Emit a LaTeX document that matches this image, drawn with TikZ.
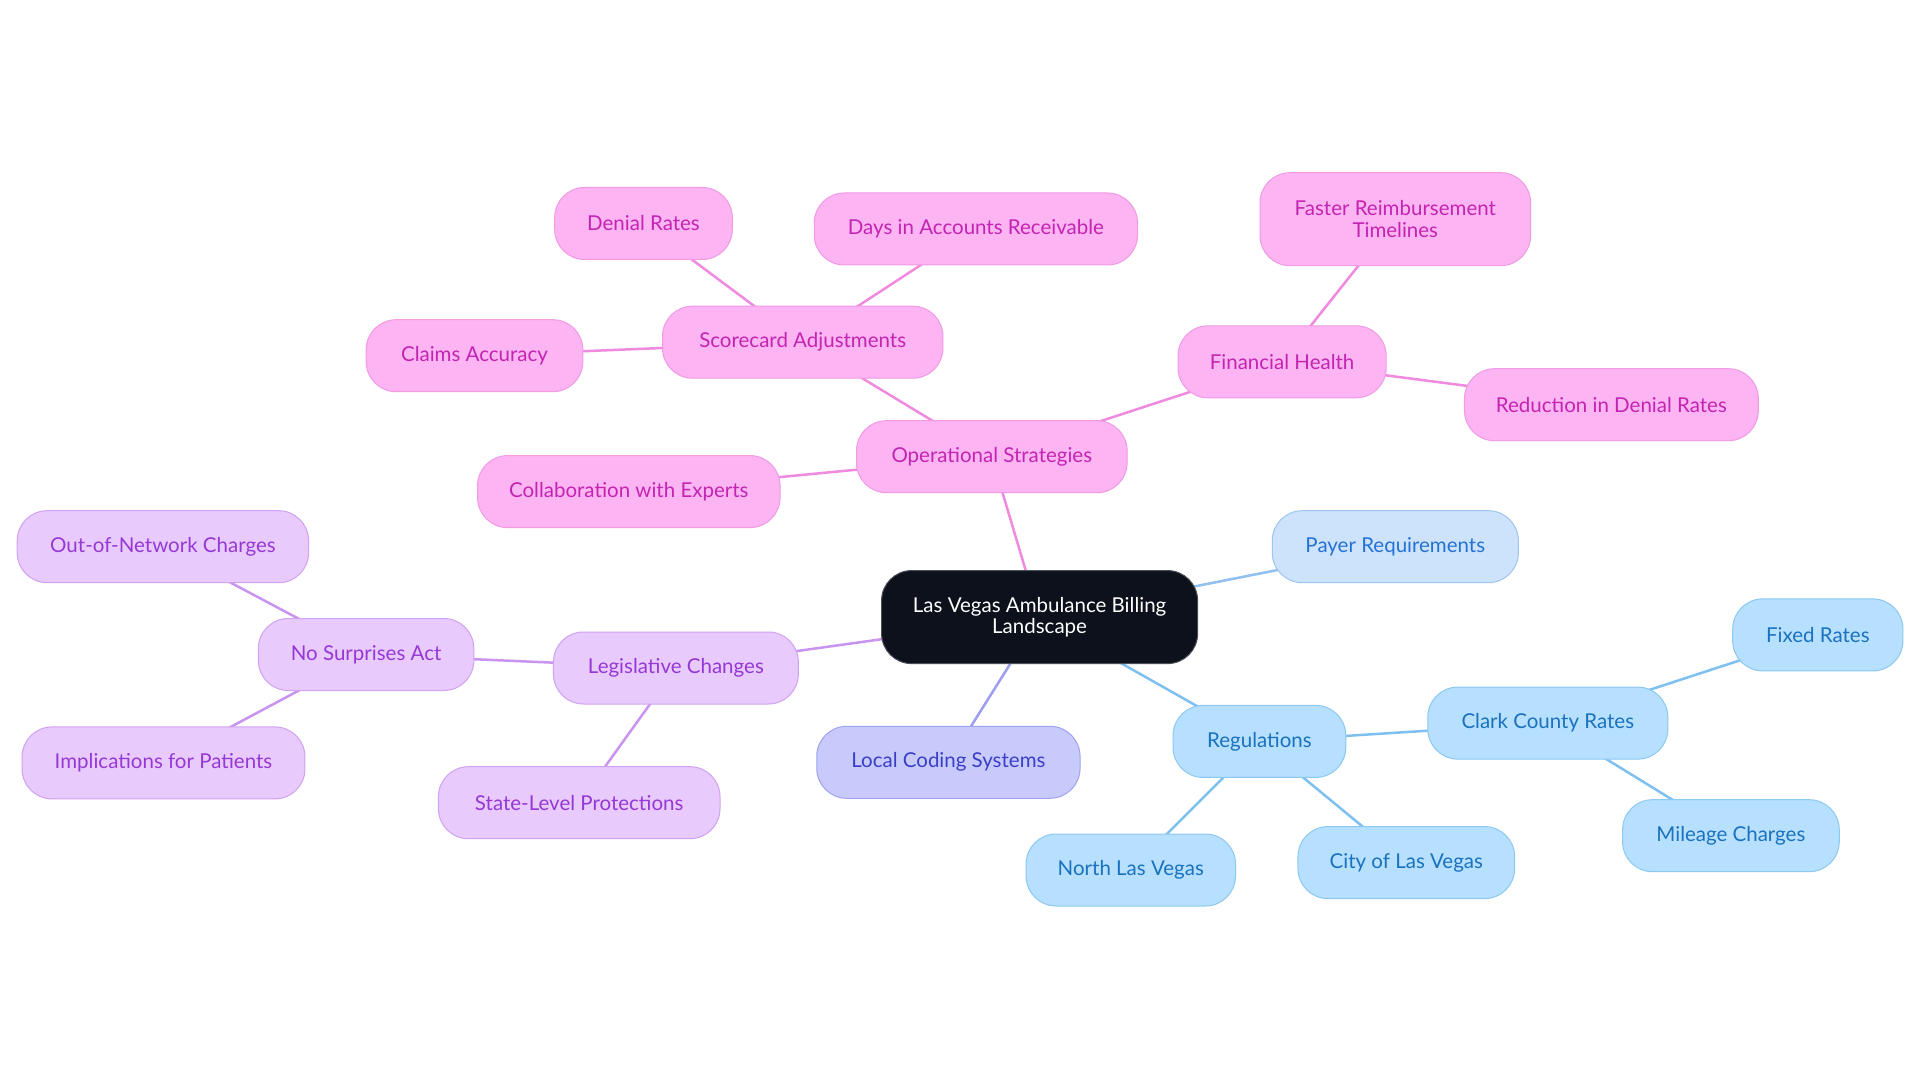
\documentclass[tikz,border=0pt]{standalone}
\usepackage{fontspec}
\setmainfont{Lato}
\usetikzlibrary{backgrounds}
\definecolor{pinkfill}{HTML}{FCB4F2}
\definecolor{pinkdraw}{HTML}{F09BE4}
\definecolor{pinktext}{HTML}{C424B2}
\definecolor{pinkedge}{HTML}{F08ADE}
\definecolor{purpfill}{HTML}{E8CAFC}
\definecolor{purpdraw}{HTML}{D0A2F2}
\definecolor{purptext}{HTML}{9638D6}
\definecolor{purpedge}{HTML}{C894F0}
\definecolor{indfill}{HTML}{C9CAFC}
\definecolor{inddraw}{HTML}{A0A3F0}
\definecolor{indtext}{HTML}{3A3FC8}
\definecolor{indedge}{HTML}{9D9DF2}
\definecolor{bluefill}{HTML}{B6E0FD}
\definecolor{bluedraw}{HTML}{8CC8F2}
\definecolor{bluetext}{HTML}{1A72BF}
\definecolor{blueedge}{HTML}{7EC0F0}
\definecolor{payfill}{HTML}{CDE3FB}
\definecolor{paydraw}{HTML}{9DC6F0}
\definecolor{paytext}{HTML}{2472D6}
\definecolor{payedge}{HTML}{90BFF0}
\definecolor{rootfill}{HTML}{0C111B}
\definecolor{rootdraw}{HTML}{4A4E55}
\tikzset{
  box/.style={rounded corners=30pt, minimum height=72pt, align=center, inner sep=0pt,
    line width=1pt, font=\fontsize{20.5}{21.5}\selectfont},
  pinkbox/.style={box, fill=pinkfill, draw=pinkdraw, text=pinktext},
  purpbox/.style={box, fill=purpfill, draw=purpdraw, text=purptext},
  indbox/.style={box, fill=indfill, draw=inddraw, text=indtext},
  bluebox/.style={box, fill=bluefill, draw=bluedraw, text=bluetext},
  paybox/.style={box, fill=payfill, draw=paydraw, text=paytext},
  rootbox/.style={box, fill=rootfill, draw=rootdraw, text=white, minimum height=93pt},
  edge/.style={line width=2.5pt}
}
\begin{document}
\begin{tikzpicture}[x=1pt,y=-1pt]
\useasboundingbox (0,0) rectangle (1920,1083);
% root
\node[rootbox, minimum width=316pt] (root) at (1039.6,617.1) {Las Vegas Ambulance Billing\\Landscape};
% pink branch
\node[pinkbox, minimum width=270.6pt] (ops) at (991.8,456.7) {Operational Strategies};
\node[pinkbox, minimum width=280.4pt] (score) at (802.7,342.2) {Scorecard Adjustments};
\node[pinkbox, minimum width=177.6pt] (denial) at (643.5,223.5) {Denial Rates};
\node[pinkbox, minimum width=323.3pt] (days) at (975.9,229) {Days in Accounts Receivable};
\node[pinkbox, minimum width=216.7pt] (claims) at (474.5,355.7) {Claims Accuracy};
\node[pinkbox, minimum width=302.5pt] (collab) at (628.8,491.6) {Collaboration with Experts};
\node[pinkbox, minimum width=208.2pt] (fin) at (1282.1,361.8) {Financial Health};
\node[pinkbox, minimum width=270.6pt, minimum height=93pt] (faster) at (1395.3,219.2) {Faster Reimbursement\\Timelines};
\node[pinkbox, minimum width=293.9pt] (reduc) at (1611.4,404.7) {Reduction in Denial Rates};
% purple branch
\node[purpbox, minimum width=244.9pt] (leg) at (675.9,668) {Legislative Changes};
\node[purpbox, minimum width=215.5pt] (nsa) at (366.1,654.5) {No Surprises Act};
\node[purpbox, minimum width=291.4pt] (oon) at (162.9,546.7) {Out-of-Network Charges};
\node[purpbox, minimum width=282.9pt] (impl) at (163.5,762.9) {Implications for Patients};
\node[purpbox, minimum width=281.6pt] (state) at (579.2,802.7) {State-Level Protections};
% indigo
\node[indbox, minimum width=263.3pt] (local) at (948.4,762.3) {Local Coding Systems};
% payer
\node[paybox, minimum width=246.1pt] (payer) at (1395.3,546.7) {Payer Requirements};
% blue branch
\node[bluebox, minimum width=172.7pt] (reg) at (1259.4,741.4) {Regulations};
\node[bluebox, minimum width=240pt] (clark) at (1547.8,723.1) {Clark County Rates};
\node[bluebox, minimum width=170.2pt] (fixed) at (1817.8,634.9) {Fixed Rates};
\node[bluebox, minimum width=216.7pt] (mile) at (1730.9,835.7) {Mileage Charges};
\node[bluebox, minimum width=209.4pt] (north) at (1130.8,870) {North Las Vegas};
\node[bluebox, minimum width=216.7pt] (city) at (1406.3,862.6) {City of Las Vegas};
\begin{pgfonlayer}{background}
\fill[white] (0,0) rectangle (1920,1083);
\draw[edge, pinkedge] (root.center) -- (ops.center);
\draw[edge, pinkedge] (ops.center) -- (score.center);
\draw[edge, pinkedge] (score.center) -- (denial.center);
\draw[edge, pinkedge] (score.center) -- (days.center);
\draw[edge, pinkedge] (score.center) -- (claims.center);
\draw[edge, pinkedge] (ops.center) -- (collab.center);
\draw[edge, pinkedge] (ops.center) -- (fin.center);
\draw[edge, pinkedge] (fin.center) -- (faster.center);
\draw[edge, pinkedge] (fin.center) -- (reduc.center);
\draw[edge, purpedge] (root.center) -- (leg.center);
\draw[edge, purpedge] (leg.center) -- (nsa.center);
\draw[edge, purpedge] (nsa.center) -- (oon.center);
\draw[edge, purpedge] (nsa.center) -- (impl.center);
\draw[edge, purpedge] (leg.center) -- (state.center);
\draw[edge, indedge] (root.center) -- (local.center);
\draw[edge, payedge] (root.center) -- (payer.center);
\draw[edge, blueedge] (root.center) -- (reg.center);
\draw[edge, blueedge] (reg.center) -- (clark.center);
\draw[edge, blueedge] (clark.center) -- (fixed.center);
\draw[edge, blueedge] (clark.center) -- (mile.center);
\draw[edge, blueedge] (reg.center) -- (north.center);
\draw[edge, blueedge] (reg.center) -- (city.center);
\end{pgfonlayer}
\end{tikzpicture}
\end{document}
